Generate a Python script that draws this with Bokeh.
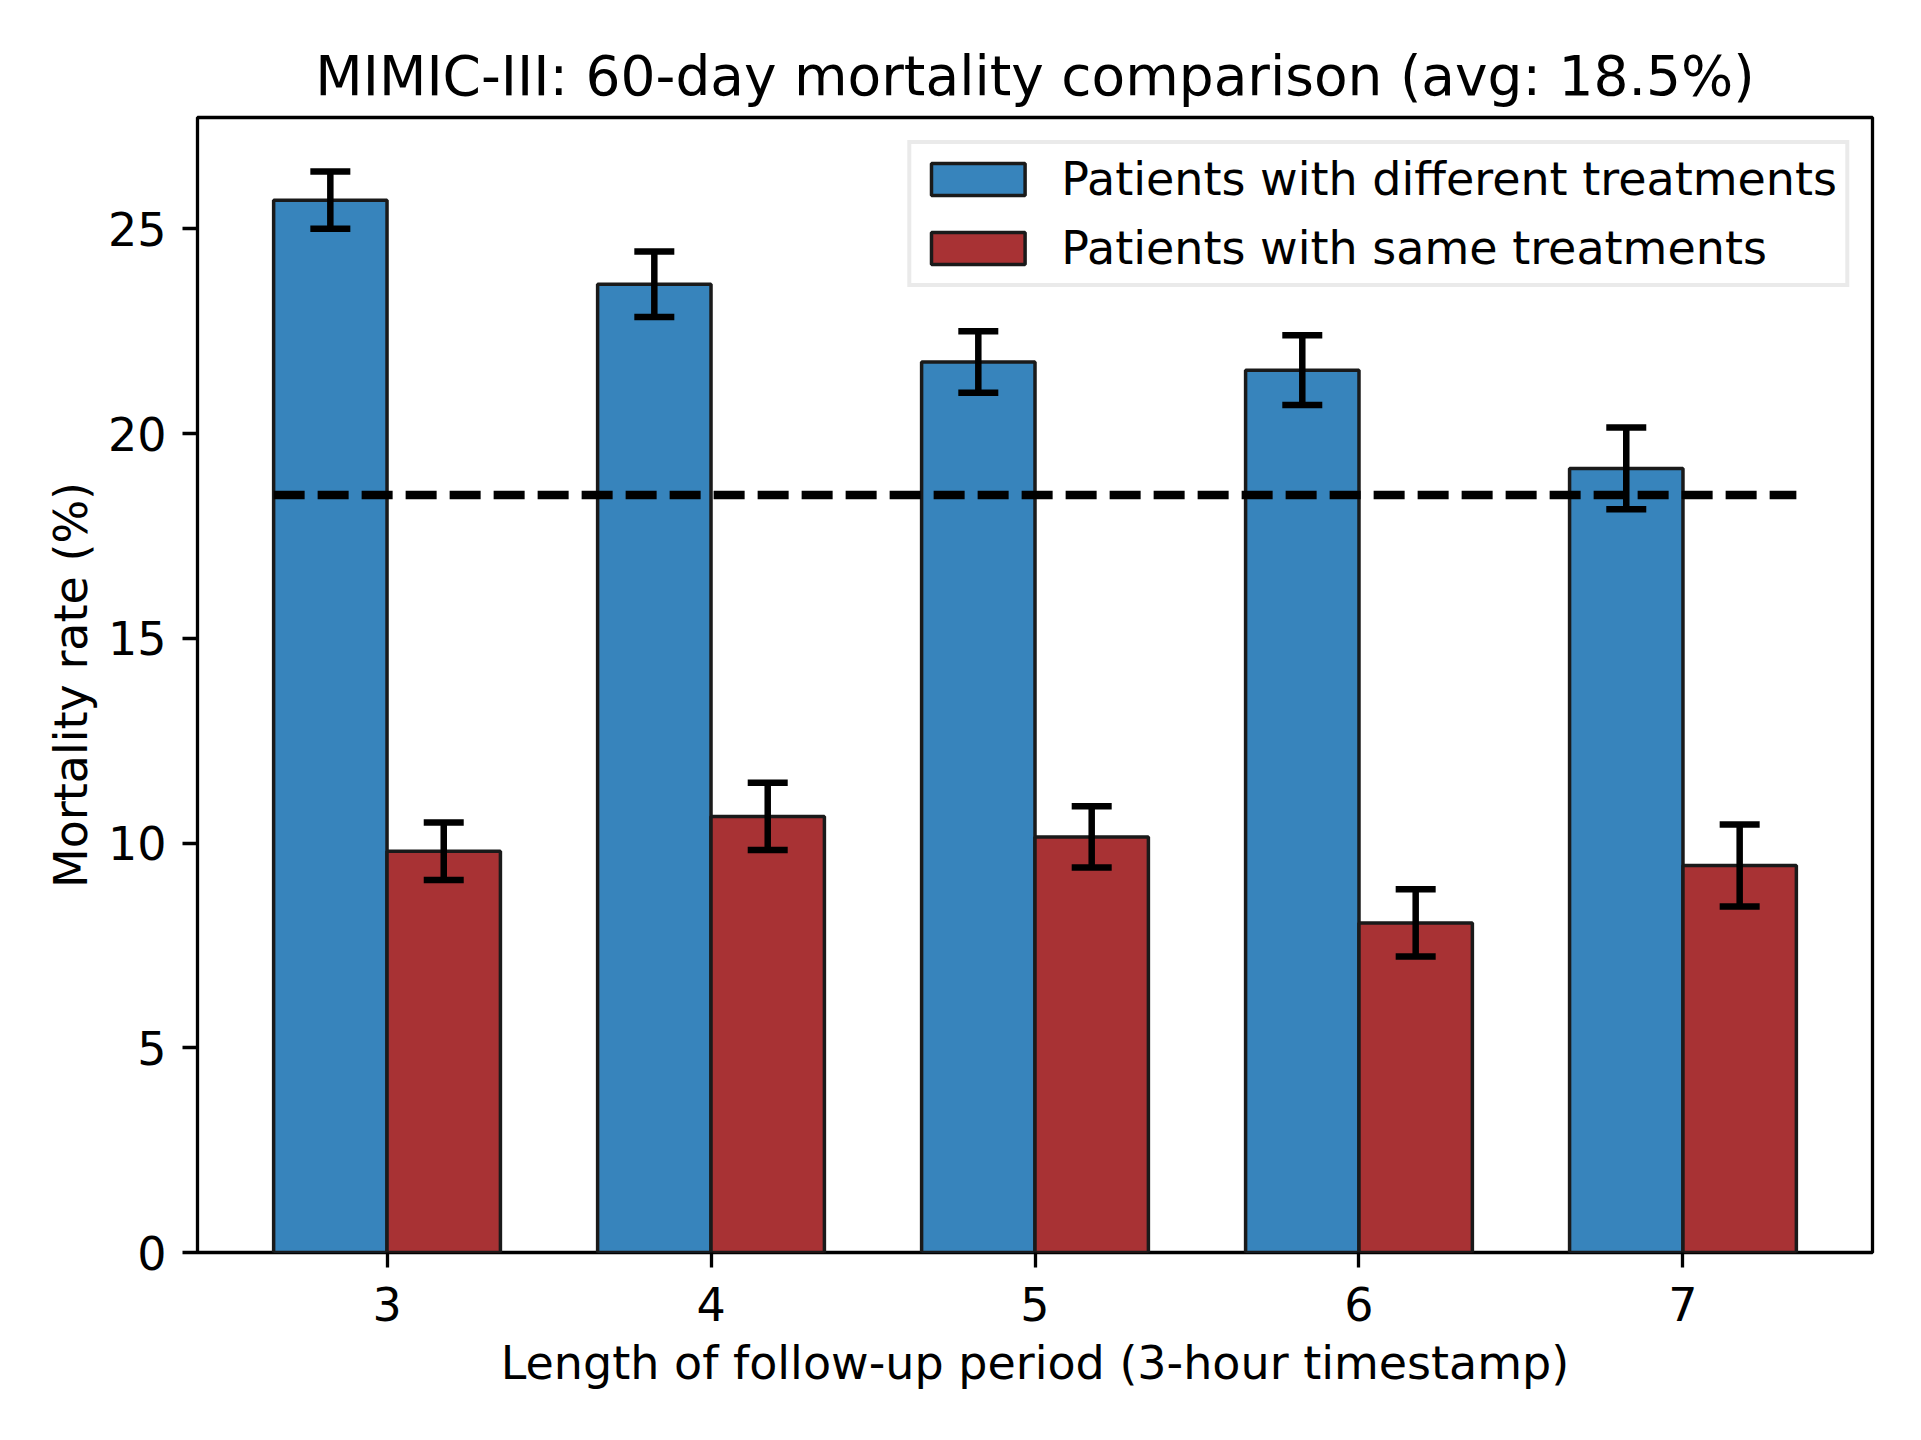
from bokeh.plotting import figure
from bokeh.models import Range1d, FixedTicker, Whisker, TeeHead, ColumnDataSource, Legend, LegendItem
from bokeh.embed import file_html
from bokeh.resources import INLINE

# ---- data ----
periods = [3, 4, 5, 6, 7]
diff_rates = [25.7, 23.65, 21.75, 21.55, 19.15]
diff_err = [0.7, 0.8, 0.75, 0.85, 1.0]
same_rates = [9.8, 10.65, 10.15, 8.05, 9.45]
same_err = [0.7, 0.82, 0.75, 0.82, 1.0]
avg_rate = 18.5
y_ticks = [0, 5, 10, 15, 20, 25]
series_names = ["Patients with different treatments", "Patients with same treatments"]
title_text = "MIMIC-III: 60-day mortality comparison (avg: 18.5%)"
x_label = "Length of follow-up period (3-hour timestamp)"
y_label = "Mortality rate (%)"

bar_w = 0.35
BLUE = "#3784bc"
RED = "#a83234"
FONT = "DejaVu Sans"
LBL = "46px"

x_diff = [p - bar_w / 2 for p in periods]
x_same = [p + bar_w / 2 for p in periods]

src_d = ColumnDataSource(dict(x=x_diff, top=diff_rates,
                              lo=[v - e for v, e in zip(diff_rates, diff_err)],
                              hi=[v + e for v, e in zip(diff_rates, diff_err)]))
src_s = ColumnDataSource(dict(x=x_same, top=same_rates,
                              lo=[v - e for v, e in zip(same_rates, same_err)],
                              hi=[v + e for v, e in zip(same_rates, same_err)]))

ymax = max(max(d["hi"]) for d in (src_d.data, src_s.data)) * 1.05
xmin = min(x_diff) - bar_w / 2
xmax = max(x_same) + bar_w / 2
xpad = (xmax - xmin) * 0.05

p = figure(width=1905, height=1424, output_backend="svg", toolbar_location=None,
           x_range=Range1d(xmin - xpad, xmax + xpad), y_range=Range1d(0, ymax),
           min_border_left=197, min_border_right=33, min_border_top=117, min_border_bottom=172)

p.background_fill_color = "white"
p.border_fill_color = "white"
p.xgrid.visible = False
p.ygrid.visible = False
p.outline_line_color = "black"
p.outline_line_width = 3.3

p.title.text = title_text
p.title.align = "center"
p.title.text_font = FONT
p.title.text_font_size = "55px"
p.title.text_font_style = "normal"
p.title.text_color = "black"
p.title.standoff = 20

for ax in (p.xaxis[0], p.yaxis[0]):
    ax.axis_line_color = None
    ax.major_tick_line_color = "black"
    ax.major_tick_line_width = 3.3
    ax.major_tick_out = 15
    ax.major_tick_in = 0
    ax.minor_tick_line_color = None
    ax.major_label_text_font = FONT
    ax.major_label_text_font_size = LBL
    ax.major_label_text_color = "black"
    ax.axis_label_text_font = FONT
    ax.axis_label_text_font_size = LBL
    ax.axis_label_text_font_style = "normal"
    ax.axis_label_text_color = "black"

p.xaxis.ticker = FixedTicker(ticks=periods)
p.yaxis.ticker = FixedTicker(ticks=y_ticks)
p.xaxis.axis_label = x_label
p.yaxis.axis_label = y_label
p.xaxis.major_label_standoff = 19
p.yaxis.major_label_standoff = 16
p.xaxis.axis_label_standoff = 12
p.yaxis.axis_label_standoff = 7

r_d = p.vbar(x="x", top="top", width=bar_w, source=src_d, fill_color=BLUE,
             line_color="#1a1a1a", line_width=3.5)
r_s = p.vbar(x="x", top="top", width=bar_w, source=src_s, fill_color=RED,
             line_color="#1a1a1a", line_width=3.5)

p.segment(x0=[xmin], x1=[xmax], y0=[avg_rate], y1=[avg_rate],
          line_color="black", line_width=8.3, line_dash="31 13")

for src in (src_d, src_s):
    w = Whisker(source=src, base="x", lower="lo", upper="hi", dimension="height",
                line_color="black", line_width=6.5, level="overlay",
                lower_head=TeeHead(size=40, line_width=6.5, line_color="black"),
                upper_head=TeeHead(size=40, line_width=6.5, line_color="black"))
    p.add_layout(w)

legend = Legend(items=[LegendItem(label=series_names[0], renderers=[r_d]),
                       LegendItem(label=series_names[1], renderers=[r_s])],
                location="top_right")
legend.label_text_font = FONT
legend.label_text_font_size = LBL
legend.label_text_color = "black"
legend.glyph_width = 117
legend.glyph_height = 40
legend.label_standoff = 25
legend.spacing = 15
legend.padding = 8
legend.margin = 23
legend.border_line_color = "#d6d6d6"
legend.border_line_width = 4
legend.background_fill_alpha = 0.8
p.add_layout(legend)

open("out.html", "w").write(file_html(p, INLINE))
